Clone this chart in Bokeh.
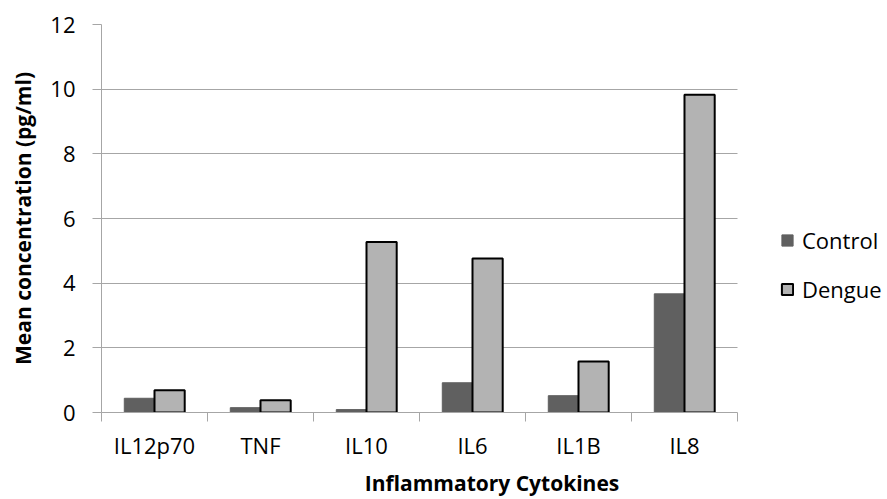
import numpy as np
from bokeh.plotting import figure
from bokeh.models import Range1d, FixedTicker, Legend, LegendItem, ColumnDataSource
from bokeh.embed import file_html
from bokeh.resources import INLINE

categories = ["IL12p70", "TNF", "IL10", "IL6", "IL1B", "IL8"]
control = [0.44, 0.15, 0.09, 0.92, 0.52, 3.67]
dengue = [0.69, 0.38, 5.27, 4.76, 1.58, 9.83]
y_ticks = [0, 2, 4, 6, 8, 10, 12]

FONT = "Open Sans"
GRID = "#a6a6a6"
BAR_W = 0.285
N = len(categories)
X_END = 7.368  # extra room on the right for the legend

idx = np.arange(N) + 0.5
src = ColumnDataSource(dict(
    xc=idx - BAR_W / 2, xd=idx + BAR_W / 2, control=control, dengue=dengue, cat=categories))

p = figure(width=887, height=499, output_backend="svg", toolbar_location=None,
           x_range=Range1d(0, X_END), y_range=Range1d(0, 12),
           min_border_left=101, min_border_right=5, min_border_top=24, min_border_bottom=86)
p.outline_line_color = None
p.background_fill_color = "white"
p.border_fill_color = "white"

rc = p.vbar(x="xc", top="control", width=BAR_W, source=src,
            fill_color="#606060", line_color="#606060", line_width=1)
rd = p.vbar(x="xd", top="dengue", width=BAR_W, source=src,
            fill_color="#b3b3b3", line_color="black", line_width=2)

# x axis: labels at category centres, ticks at category boundaries
p.xaxis.bounds = (0, N)
p.xaxis.ticker = FixedTicker(ticks=list(idx), minor_ticks=list(range(N + 1)))
p.xaxis.major_label_overrides = {float(v): c for v, c in zip(idx, categories)}
p.xaxis.major_tick_line_color = None
p.xaxis.major_tick_out = 9
p.xaxis.major_tick_in = 0
p.xaxis.minor_tick_line_color = GRID
p.xaxis.minor_tick_out = 9
p.xaxis.minor_tick_in = 0
p.xaxis.axis_line_color = GRID
p.xaxis.major_label_standoff = 8
p.xaxis.axis_label = "Inflammatory Cytokines"
p.xaxis.axis_label_standoff = 6

p.yaxis.ticker = FixedTicker(ticks=y_ticks)
p.yaxis.minor_tick_line_color = None
p.yaxis.major_tick_out = 9
p.yaxis.major_tick_in = 0
p.yaxis.major_tick_line_color = GRID
p.yaxis.axis_line_color = GRID
p.yaxis.major_label_standoff = 17
p.yaxis.axis_label = "Mean concentration (pg/ml)"
p.yaxis.axis_label_standoff = 10

for ax in (p.xaxis, p.yaxis):
    ax.major_label_text_font = FONT
    ax.major_label_text_font_size = "22px"
    ax.major_label_text_color = "black"
    ax.axis_label_text_font = FONT
    ax.axis_label_text_font_size = "21px"
    ax.axis_label_text_font_style = "bold"
    ax.axis_label_text_color = "black"

p.xgrid.grid_line_color = None
p.ygrid.ticker = FixedTicker(ticks=y_ticks)
p.ygrid.grid_line_color = GRID
p.ygrid.grid_line_width = 1
try:
    p.ygrid.cross_bounds = (0, N)
except Exception:
    p.ygrid.grid_line_color = None
    p.segment(x0=0, x1=N, y0=y_ticks[1:], y1=y_ticks[1:], line_color=GRID, line_width=1,
              level="underlay")

legend = Legend(items=[LegendItem(label="Control", renderers=[rc]),
                       LegendItem(label="Dengue", renderers=[rd])],
                location=(679, 108), orientation="vertical",
                glyph_width=14, glyph_height=14, label_height=20,
                spacing=19, padding=0, margin=0, label_standoff=8,
                border_line_color=None, background_fill_alpha=0,
                label_text_font=FONT, label_text_font_size="22px", label_text_color="black")
p.add_layout(legend, "center")

open("out.html", "w").write(file_html(p, INLINE))
